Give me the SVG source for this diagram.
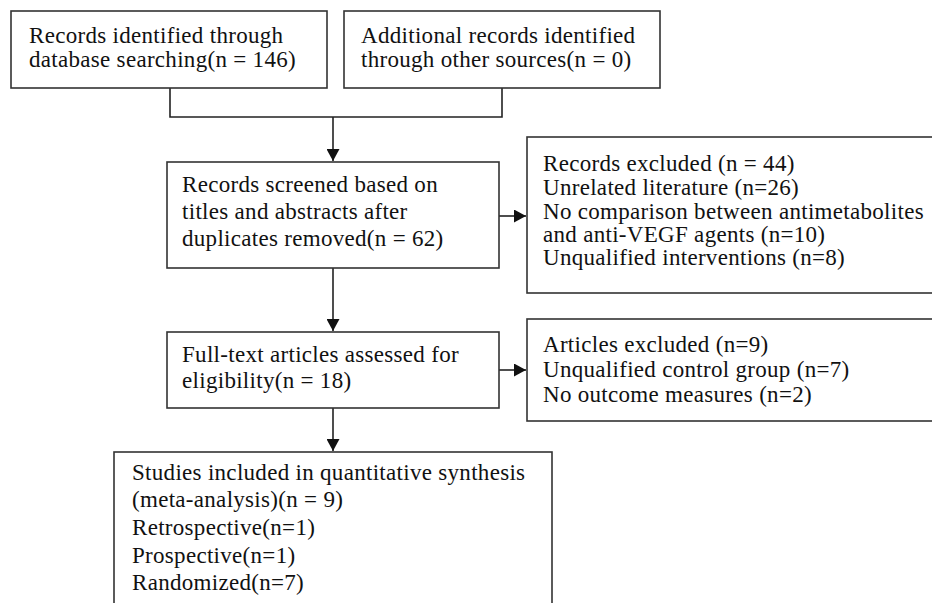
<svg xmlns="http://www.w3.org/2000/svg" width="932" height="603" viewBox="0 0 932 603">
<defs>
<style>
.box{fill:#fff;stroke:#333;stroke-width:1.6}
.c{fill:none;stroke:#222;stroke-width:1.6}
text{font-family:'Liberation Serif','Times New Roman',serif;font-size:23px;letter-spacing:0.3px;fill:#111}
</style>
<marker id="ah" markerWidth="13" markerHeight="13" refX="12" refY="6.5" orient="auto" markerUnits="userSpaceOnUse">
<path d="M0,0 L12,6.5 L0,13 z" fill="#111"/>
</marker>
</defs>
<rect width="932" height="603" fill="#fff"/>
<g id="connectors">
<path class="c" d="M170,88 V117 H502 V88"/>
<path class="c" d="M333,117 V161" marker-end="url(#ah)"/>
<path class="c" d="M499,216 H526" marker-end="url(#ah)"/>
<path class="c" d="M333,268 V331" marker-end="url(#ah)"/>
<path class="c" d="M499,370 H526" marker-end="url(#ah)"/>
<path class="c" d="M333,408 V451" marker-end="url(#ah)"/>
</g>
<g id="n1">
<rect class="box" x="11" y="11" width="316" height="77"/>
<text x="29" y="43">Records identified through</text>
<text x="29" y="67">database searching(n = 146)</text>
</g>
<g id="n2">
<rect class="box" x="344" y="11" width="316" height="77"/>
<text x="361" y="43">Additional records identified</text>
<text x="361" y="67">through other sources(n = 0)</text>
</g>
<g id="n3">
<rect class="box" x="167" y="162" width="332" height="106"/>
<text x="182" y="192">Records screened based on</text>
<text x="182" y="219">titles and abstracts after</text>
<text x="182" y="246">duplicates removed(n = 62)</text>
</g>
<g id="n4">
<rect class="box" x="527" y="137" width="420" height="156"/>
<text x="543" y="171">Records excluded (n = 44)</text>
<text x="543" y="195">Unrelated literature (n=26)</text>
<text x="543" y="219">No comparison between antimetabolites</text>
<text x="543" y="242">and anti-VEGF agents (n=10)</text>
<text x="543" y="265">Unqualified interventions (n=8)</text>
</g>
<g id="n5">
<rect class="box" x="167" y="332" width="332" height="76"/>
<text x="182" y="362">Full-text articles assessed for</text>
<text x="182" y="388">eligibility(n = 18)</text>
</g>
<g id="n6">
<rect class="box" x="527" y="319" width="420" height="102"/>
<text x="543" y="352">Articles excluded (n=9)</text>
<text x="543" y="377">Unqualified control group (n=7)</text>
<text x="543" y="402">No outcome measures (n=2)</text>
</g>
<g id="n7">
<rect class="box" x="114" y="452" width="438" height="170"/>
<text x="132" y="480">Studies included in quantitative synthesis</text>
<text x="132" y="507">(meta-analysis)(n = 9)</text>
<text x="132" y="535">Retrospective(n=1)</text>
<text x="132" y="563">Prospective(n=1)</text>
<text x="132" y="590">Randomized(n=7)</text>
</g>
</svg>
